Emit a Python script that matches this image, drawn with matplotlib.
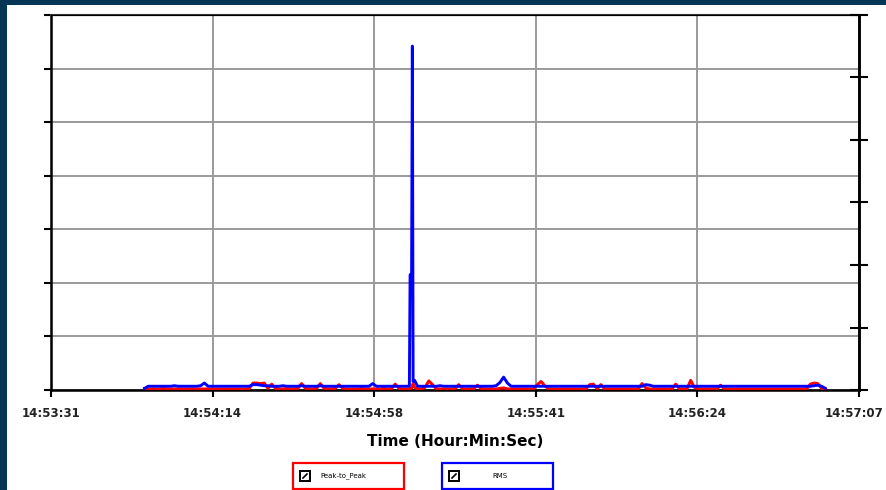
import numpy as np
import matplotlib
matplotlib.use("Agg")
import matplotlib.pyplot as plt
from matplotlib.patches import Rectangle
from matplotlib.lines import Line2D

# sample times, seconds after 14:53:31
sec = list(range(25, 96)) + [95.8, 96.0, 96.4, 96.6, 96.8, 97.2] + list(range(98, 208))

rms = [
    0.03, 0.07, 0.07, 0.07, 0.07, 0.07, 0.07, 0.07, 0.08, 0.07,
    0.07, 0.07, 0.07, 0.07, 0.07, 0.08, 0.13, 0.07, 0.07, 0.07,
    0.07, 0.07, 0.07, 0.07, 0.07, 0.07, 0.07, 0.07, 0.07, 0.10,
    0.10, 0.09, 0.08, 0.08, 0.07, 0.07, 0.07, 0.08, 0.07, 0.07,
    0.07, 0.07, 0.08, 0.07, 0.07, 0.07, 0.07, 0.08, 0.07, 0.07,
    0.07, 0.07, 0.07, 0.07, 0.07, 0.07, 0.07, 0.07, 0.07, 0.07,
    0.07, 0.12, 0.07, 0.07, 0.07, 0.07, 0.07, 0.07, 0.07, 0.07, 0.07,
    0.07, 2.15, 2.18, 6.42, 0.16, 0.18,
    0.07, 0.07, 0.07, 0.07, 0.07, 0.07, 0.08, 0.07, 0.07, 0.07,
    0.07, 0.07, 0.07, 0.07, 0.07, 0.07, 0.07, 0.07, 0.07, 0.07,
    0.07, 0.08, 0.14, 0.24, 0.13, 0.07, 0.07, 0.07, 0.07, 0.07,
    0.07, 0.07, 0.07, 0.07, 0.07, 0.07, 0.07, 0.07, 0.07, 0.07,
    0.07, 0.07, 0.07, 0.07, 0.07, 0.07, 0.07, 0.07, 0.07, 0.07,
    0.07, 0.07, 0.07, 0.07, 0.07, 0.07, 0.07, 0.07, 0.07, 0.07,
    0.07, 0.10, 0.09, 0.07, 0.07, 0.07, 0.07, 0.07, 0.07, 0.07,
    0.07, 0.07, 0.07, 0.07, 0.07, 0.07, 0.07, 0.07, 0.07, 0.07,
    0.07, 0.07, 0.07, 0.07, 0.07, 0.07, 0.07, 0.07, 0.07, 0.07,
    0.07, 0.07, 0.07, 0.07, 0.07, 0.07, 0.07, 0.07, 0.07, 0.07,
    0.07, 0.07, 0.07, 0.07, 0.07, 0.07, 0.08, 0.09, 0.07, 0.03,
]

p2p = [
    0.02, 0.02, 0.02, 0.02, 0.02, 0.03, 0.02, 0.02, 0.02, 0.02,
    0.02, 0.02, 0.02, 0.02, 0.02, 0.02, 0.02, 0.02, 0.02, 0.02,
    0.02, 0.02, 0.02, 0.02, 0.02, 0.02, 0.02, 0.02, 0.03, 0.13,
    0.13, 0.12, 0.13, 0.03, 0.11, 0.03, 0.02, 0.02, 0.03, 0.02,
    0.02, 0.03, 0.12, 0.03, 0.02, 0.02, 0.03, 0.12, 0.03, 0.02,
    0.02, 0.03, 0.10, 0.03, 0.02, 0.02, 0.02, 0.02, 0.03, 0.02,
    0.02, 0.02, 0.02, 0.02, 0.03, 0.02, 0.02, 0.11, 0.03, 0.02, 0.02,
    0.02, 0.03, 0.03, 0.08, 0.12, 0.05,
    0.02, 0.02, 0.05, 0.17, 0.10, 0.02, 0.02, 0.02, 0.02, 0.02,
    0.02, 0.10, 0.02, 0.02, 0.02, 0.02, 0.09, 0.02, 0.02, 0.02,
    0.02, 0.02, 0.03, 0.04, 0.02, 0.02, 0.02, 0.02, 0.02, 0.02,
    0.02, 0.02, 0.10, 0.16, 0.08, 0.02, 0.02, 0.02, 0.02, 0.02,
    0.02, 0.02, 0.02, 0.02, 0.02, 0.02, 0.10, 0.11, 0.02, 0.10,
    0.02, 0.02, 0.02, 0.02, 0.02, 0.02, 0.02, 0.02, 0.02, 0.02,
    0.12, 0.04, 0.02, 0.02, 0.02, 0.02, 0.02, 0.02, 0.02, 0.11,
    0.02, 0.02, 0.02, 0.18, 0.05, 0.02, 0.02, 0.02, 0.02, 0.02,
    0.02, 0.09, 0.02, 0.02, 0.02, 0.02, 0.02, 0.02, 0.02, 0.02,
    0.02, 0.02, 0.02, 0.02, 0.02, 0.02, 0.02, 0.02, 0.02, 0.02,
    0.02, 0.02, 0.02, 0.02, 0.02, 0.11, 0.13, 0.12, 0.03, 0.02,
]

tick_labels = ["14:53:31", "14:54:14", "14:54:58", "14:55:41", "14:56:24", "14:57:07"]
series_names = ["Peak-to_Peak", "RMS"]
span = 216.0

W, H = 886, 490
fig = plt.figure(figsize=(W / 100, H / 100), dpi=100, facecolor="#063656")
# white page inside the navy frame
fig.patches.append(Rectangle((7 / W, 0), 1 - 7 / W, 1 - 5 / H, transform=fig.transFigure,
                             facecolor="white", edgecolor="none", zorder=-10))

ax = fig.add_axes([51 / W, 1 - 390 / H, 808 / W, 375 / H])
ax.set_facecolor("white")
ax.plot(sec, p2p, color="#ff0000", lw=2.1, zorder=3)
ax.plot(sec, rms, color="#0000ff", lw=2.1, zorder=4)

lab_kw = dict(fontsize=8.5, fontweight="bold", color="#222222")
ax.set_xlim(0, span)
ax.set_ylim(0, 7)
ticks = np.linspace(0, span, len(tick_labels))
ax.set_xticks(ticks)
ax.set_xticklabels(tick_labels[:-1] + [""], **lab_kw)
# last label nudged left so it stays inside the picture
ax.annotate(tick_labels[-1], xy=(ticks[-1], 0), xycoords=("data", "axes fraction"),
            xytext=(-5, -17), textcoords="offset pixels", ha="center", va="top",
            annotation_clip=False, **lab_kw)
ax.set_yticks(range(8))
ax.set_yticklabels([])
ax.grid(True, color="#9a9a9a", lw=1.4, zorder=0)
ax.tick_params(axis="x", direction="out", length=5, width=1.5, pad=7, color="black")
ax.tick_params(axis="y", direction="out", length=5, width=1.5, color="black")
for side in ["left", "bottom", "right"]:
    ax.spines[side].set_linewidth(1.8)
    ax.spines[side].set_color("black")
ax.spines["top"].set_linewidth(1.5)
ax.spines["top"].set_color("#333333")
ax.set_xlabel("Time (Hour:Min:Sec)", fontsize=11, fontweight="bold", labelpad=10)

ax2 = ax.twinx()
ax2.set_ylim(0, 6)
ax2.set_yticks(range(7))
ax2.set_yticklabels([])
ax2.tick_params(axis="y", direction="inout", length=13, width=1.5, color="black")
ax2.spines["right"].set_linewidth(1.8)

# legend boxes
boxes = [(293, "#ff0000", 343), (442, "#0000ff", 500)]
for (x0, col, tx), name in zip(boxes, series_names):
    fig.patches.append(Rectangle((x0 / W, 1 / H), 111 / W, 26 / H, transform=fig.transFigure,
                                 facecolor="white", edgecolor=col, lw=1.6))
    fig.patches.append(Rectangle(((x0 + 7) / W, 9 / H), 10 / W, 10 / H, transform=fig.transFigure,
                                 facecolor="white", edgecolor="black", lw=1.4))
    fig.lines.append(Line2D([(x0 + 10) / W, (x0 + 14) / W], [12 / H, 16 / H],
                            transform=fig.transFigure, color="black", lw=1.2))
    fig.text(tx / W, 14 / H, name, fontsize=5, ha="center", va="center")

fig.savefig("out.png", dpi=100, facecolor=fig.get_facecolor())
